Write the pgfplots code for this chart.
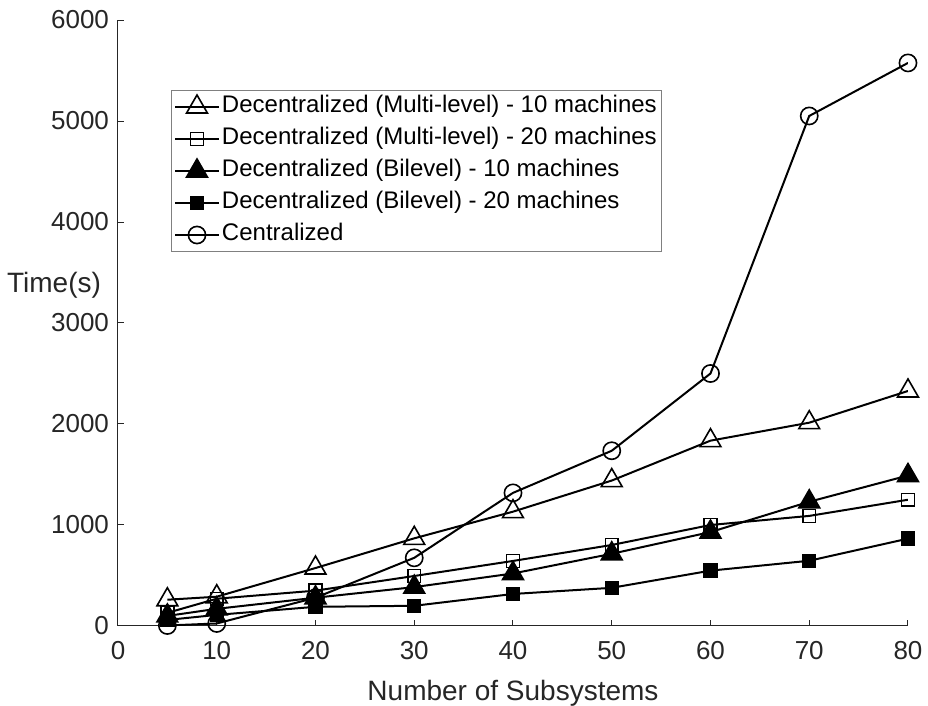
\documentclass[border=0pt]{standalone}
\usepackage{pgfplots}
\pgfplotsset{compat=1.18}
\usepackage{fontspec}
\setmainfont{Liberation Sans}
\definecolor{axgray}{HTML}{262626}
\begin{document}
\begin{tikzpicture}
\begin{axis}[name=ax, width=395pt, height=303pt, scale only axis,
 xmin=0, xmax=80, ymin=0, ymax=6000,
 axis x line*=bottom, axis y line*=left,
 axis line style={axgray, line width=0.5pt, -},
 xtick={0,10,...,80}, ytick={0,1000,...,6000},
 tick align=inside, major tick length=3pt,
 tick style={axgray, line width=0.5pt},
 /pgf/number format/assume math mode=true, /pgf/number format/1000 sep={},
 ticklabel style={font=\fontsize{13}{15}\selectfont, text=axgray},
 xticklabel style={yshift=-4pt},
 yticklabel style={xshift=-1pt},
 xlabel={Number of Subsystems},
 every axis x label/.style={at={(axis description cs:0.5,0)}, anchor=base, yshift=-37.5pt, font=\fontsize{14}{16}\selectfont, text=axgray},
 ylabel={Time(s)},
 every axis y label/.style={at={(axis description cs:0,0.5627)}, anchor=east, xshift=-5pt, font=\fontsize{14}{16}\selectfont, text=axgray},
 legend cell align=left,
 legend style={at={(axis description cs:0.0671,0.8845)}, anchor=north west, draw=gray, line width=0.5pt,
   font=\fontsize{12}{14}\selectfont, text=black, inner sep=1.25pt, row sep=2pt,
   nodes={inner sep=1pt, text height=9pt, text depth=3pt}},
 legend image code/.code={\draw[mark repeat=2,mark phase=2,#1] plot coordinates {(0pt,0pt) (11pt,0pt) (22pt,0pt)};},
 every axis plot/.append style={black, line width=1pt},
]
\addplot[mark=triangle, mark size=6pt, mark options={line width=0.8pt}] coordinates {
 (5,260) (10,290) (20,574) (30,868) (40,1132) (50,1440) (60,1835) (70,2013) (80,2327)};
\addlegendentry{Decentralized (Multi-level) - 10 machines}
\addplot[mark=square, mark size=3.2pt, mark options={line width=0.8pt}] coordinates {
 (5,130) (10,270) (20,350) (30,495) (40,644) (50,802) (60,1000) (70,1090) (80,1250)};
\addlegendentry{Decentralized (Multi-level) - 20 machines}
\addplot[mark=triangle*, mark size=6pt, mark options={line width=0.8pt}] coordinates {
 (5,100) (10,170) (20,280) (30,385) (40,520) (50,715) (60,930) (70,1230) (80,1490)};
\addlegendentry{Decentralized (Bilevel) - 10 machines}
\addplot[mark=square*, mark size=3.2pt, mark options={line width=0.8pt}] coordinates {
 (5,60) (10,110) (20,190) (30,200) (40,317) (50,378) (60,548) (70,646) (80,865)};
\addlegendentry{Decentralized (Bilevel) - 20 machines}
\addplot[mark=o, mark size=4.3pt, mark options={line width=0.8pt}] coordinates {
 (5,5) (10,25) (20,280) (30,675) (40,1318) (50,1735) (60,2500) (70,5050) (80,5575)};
\addlegendentry{Centralized}
\end{axis}
\pgfresetboundingbox
\path[use as bounding box] ([xshift=-59pt,yshift=-40pt]ax.south west) rectangle ++(464pt,353pt);
\end{tikzpicture}
\end{document}
